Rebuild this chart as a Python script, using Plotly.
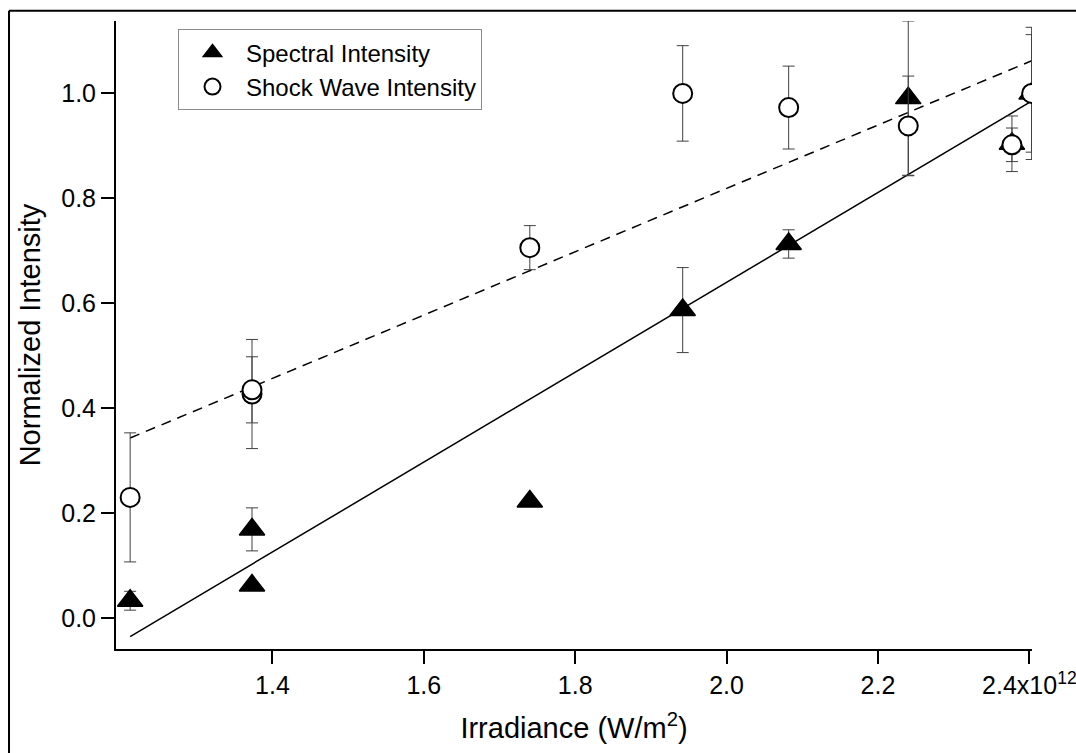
import numpy as np
import plotly.graph_objects as go

# Irradiance in units of 1e12 W/m^2
irradiance = [1.212, 1.373, 1.373, 1.740, 1.942, 2.082, 2.240, 2.377, 2.403]

# Normalized spectral line intensity and its uncertainty
spectral = [0.033, 0.169, 0.062, 0.222, 0.587, 0.713, 0.991, 0.904, 1.000]
spectral_err = [0.018, 0.041, 0.0, 0.0, 0.081, 0.027, 0.147, 0.053, 0.126]

# Normalized shock wave intensity and its uncertainty
shock = [0.230, 0.427, 0.435, 0.706, 1.000, 0.973, 0.938, 0.902, 1.000]
shock_err = [0.123, 0.104, 0.063, 0.042, 0.091, 0.079, 0.095, 0.032, 0.112]

x_ticks = [1.4, 1.6, 1.8, 2.0, 2.2, 2.4]
x_tick_text = ["1.4", "1.6", "1.8", "2.0", "2.2", "2.4x10<sup>12</sup>"]
y_ticks = [0.0, 0.2, 0.4, 0.6, 0.8, 1.0]

FONT = "Liberation Sans, Arial, Helvetica, sans-serif"

# Linear least-squares fits over the measured range
x = np.array(irradiance)
x_line = np.array([x.min(), x.max()])
spectral_fit = np.polyval(np.polyfit(x, spectral, 1), x_line)
shock_fit = np.polyval(np.polyfit(x, shock, 1), x_line)

fig = go.Figure()

fig.add_trace(go.Scatter(
    x=x_line, y=spectral_fit, mode="lines", showlegend=False,
    line=dict(color="black", width=1.5), hoverinfo="skip",
))
fig.add_trace(go.Scatter(
    x=x_line, y=shock_fit, mode="lines", showlegend=False,
    line=dict(color="black", width=1.5, dash="10px,7px"), hoverinfo="skip",
))

fig.add_trace(go.Scatter(
    x=irradiance, y=spectral, mode="markers", name="Spectral Intensity",
    marker=dict(symbol="triangle-up", size=22, color="black",
                line=dict(color="black", width=1.5)),
    error_y=dict(type="data", array=spectral_err, visible=True,
                 color="#404040", thickness=1, width=6),
))
fig.add_trace(go.Scatter(
    x=irradiance, y=shock, mode="markers", name="Shock Wave Intensity",
    marker=dict(symbol="circle", size=19, color="white",
                line=dict(color="black", width=2)),
    error_y=dict(type="data", array=shock_err, visible=True,
                 color="#404040", thickness=1, width=6),
))

axis_common = dict(
    showline=True, linecolor="black", linewidth=2,
    ticks="outside", ticklen=13, tickwidth=2, tickcolor="black",
    showgrid=False, zeroline=False, mirror=False,
    tickfont=dict(family=FONT, size=25, color="black"),
    ticklabeloverflow="allow", automargin=False,
)

# Frame around the figure: only its top and left edges fall inside the page
frame = dict(color="black", width=2)
frame_shapes = [
    dict(type="line", xref="paper", yref="paper",
         x0=-0.1168, x1=1.2, y0=1.0164, y1=1.0164, line=frame, layer="above"),
    dict(type="line", xref="paper", yref="paper",
         x0=-0.1168, x1=-0.1168, y0=-0.3, y1=1.0164, line=frame, layer="above"),
]

fig.update_layout(
    width=1076, height=753,
    margin=dict(l=116, r=44, t=21, b=104, pad=0, autoexpand=False),
    paper_bgcolor="white", plot_bgcolor="white",
    font=dict(family=FONT, color="black"),
    xaxis=dict(
        range=[1.1933, 2.4035], tickvals=x_ticks, ticktext=x_tick_text,
        title=dict(text="Irradiance (W/m<sup>2</sup>)",
                   font=dict(family=FONT, size=29), standoff=20),
        **axis_common,
    ),
    yaxis=dict(
        range=[-0.059, 1.138], tickvals=y_ticks, tickformat=".1f",
        title=dict(text="Normalized Intensity",
                   font=dict(family=FONT, size=29), standoff=12),
        **axis_common,
    ),
    legend=dict(
        x=0.0677, y=0.9868, xanchor="left", yanchor="top",
        bgcolor="white", bordercolor="#8a8a8a", borderwidth=1,
        font=dict(family=FONT, size=24, color="black"),
        itemwidth=57, tracegroupgap=0,
    ),
    shapes=frame_shapes,
    showlegend=True,
)

fig.write_html("out.html")
